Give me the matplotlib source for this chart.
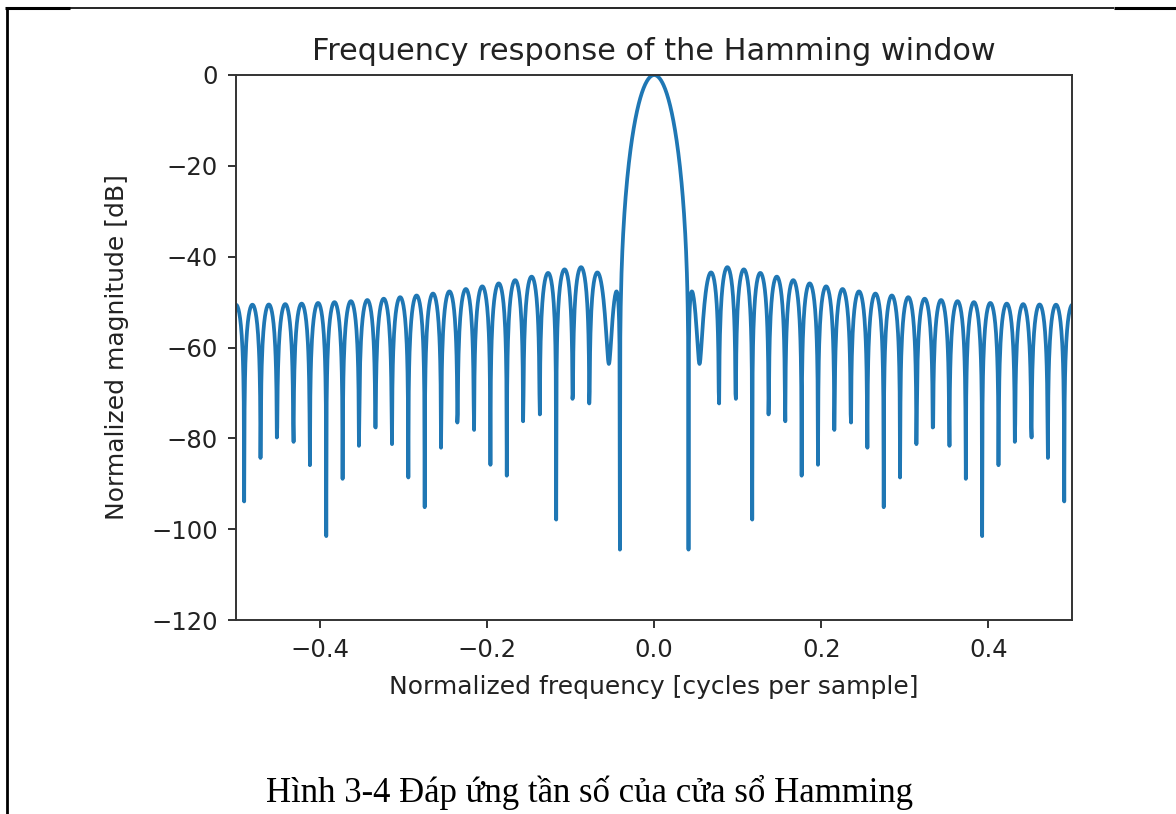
import numpy as np
import matplotlib
matplotlib.use("Agg")
import matplotlib.pyplot as plt
from matplotlib.lines import Line2D

# Hamming window and its zero-padded spectrum
window_length = 51
fft_size = 2048
window = np.hamming(window_length)

spectrum = np.fft.fft(window, fft_size) / (window_length / 2.0)
magnitude = np.abs(np.fft.fftshift(spectrum / np.abs(spectrum).max()))
freq = np.linspace(-0.5, 0.5, len(spectrum))
response_db = 20 * np.log10(np.maximum(magnitude, 1e-10))

title = "Frequency response of the Hamming window"
xlabel = "Normalized frequency [cycles per sample]"
ylabel = "Normalized magnitude [dB]"
caption = "Hình 3-4 Đáp ứng tần số của cửa sổ Hamming"
x_ticks = [-0.4, -0.2, 0.0, 0.2, 0.4]
y_ticks = [0, -20, -40, -60, -80, -100, -120]

W, H = 1176, 814
fig = plt.figure(figsize=(W / 100, H / 100), dpi=100)
fig.patch.set_facecolor("white")

ax = fig.add_axes([236 / W, 1 - 620 / H, 836 / W, 545 / H])
ax.plot(freq, response_db, color="#1f77b4", lw=2.7)
ax.set_xlim(-0.5, 0.5)
ax.set_ylim(-120, 0)
ax.set_xticks(x_ticks)
ax.set_yticks(y_ticks)
ax.tick_params(labelsize=17.5, length=6, width=1.3, pad=7, colors="#222222")
for sp in ax.spines.values():
    sp.set_linewidth(1.4)
    sp.set_color("#333333")
ax.set_title(title, fontsize=21.8, pad=11, color="#222222")
ax.set_xlabel(xlabel, fontsize=18, labelpad=9, color="#222222")
ax.set_ylabel(ylabel, fontsize=18, labelpad=16, color="#222222")

# page frame around the figure
def px_line(x0, y0, x1, y1, lw):
    fig.add_artist(Line2D([x0 / W, x1 / W], [1 - y0 / H, 1 - y1 / H],
                          transform=fig.transFigure, color="black", lw=lw,
                          solid_capstyle="butt"))

px_line(70, 7.5, 1114, 7.5, 1.2)
px_line(5, 7.5, 70, 7.5, 2.2)
px_line(1114, 7.5, 1176, 7.5, 2.2)
px_line(6.5, 6.5, 6.5, 814, 2.0)

fig.text(590 / W, 1 - 792 / H, caption, ha="center", va="center",
         fontsize=25, family="Liberation Serif", color="black")

fig.savefig("out.png", dpi=100)
